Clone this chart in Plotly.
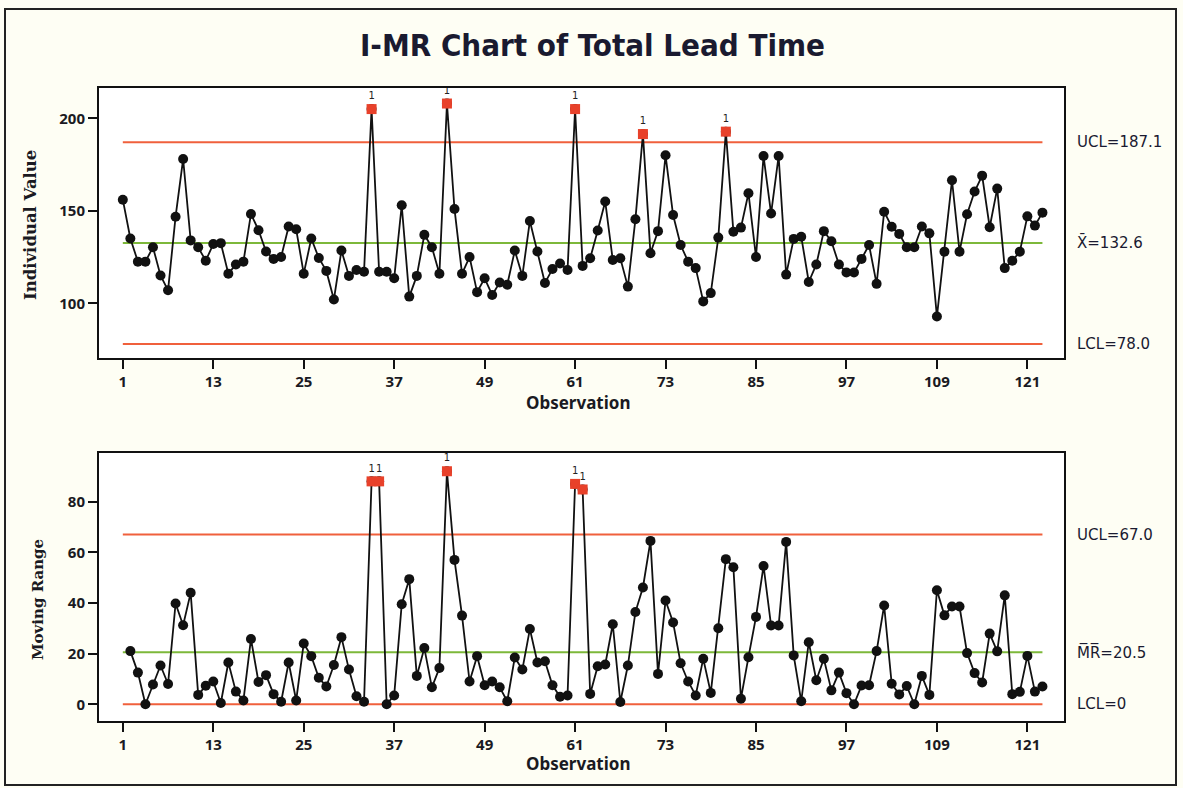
import numpy as np
import plotly.graph_objects as go

# ---------------- data ----------------
observation = list(range(1, 124))
individual_value = [
    156, 135, 122.5, 122.5, 130.3, 115, 107, 146.8, 178, 134,
    130.3, 123, 132, 132.5, 116, 121, 122.5, 148.3, 139.5, 128,
    124, 125, 141.5, 140, 116, 135, 124.5, 117.5, 102, 128.5,
    114.8, 118, 117, 205, 117, 117, 113.5, 153, 103.6, 114.8,
    137, 130.3, 116, 208, 151, 116, 125, 106, 113.5, 104.5,
    111.2, 110, 128.5, 114.8, 144.5, 128, 111, 118.5, 121.5, 118,
    205, 120.2, 124.3, 139.3, 155, 123.4, 124.3, 109, 145.4, 191.5,
    127, 139, 180, 147.7, 131.5, 122.5, 119, 101, 105.5, 135.5,
    192.8, 138.7, 140.9, 159.5, 125, 179.6, 148.5, 179.6, 115.5, 134.8,
    136, 111.5, 121, 139, 133.5, 121, 116.6, 116.6, 124, 131.5,
    110.5, 149.5, 141.4, 137.5, 130.3, 130.3, 141.5, 137.8, 92.8, 127.9,
    166.5, 127.9, 148.1, 160.4, 169, 141.1, 162, 119, 123, 127.9,
    147, 142, 149,
]
# moving range of the individual values (starts at observation 2)
moving_range = list(np.abs(np.diff(individual_value)))
mr_observation = observation[1:]

i_limits = {"UCL": 187.1, "CL": 132.6, "LCL": 78.0}
mr_limits = {"UCL": 67.0, "CL": 20.5, "LCL": 0.0}
i_flagged = [34, 44, 61, 70, 81]
mr_flagged = [34, 35, 44, 61, 62]
x_ticks = [1, 13, 25, 37, 49, 61, 73, 85, 97, 109, 121]

# ---------------- styling ----------------
W, H = 1183, 788
BLACK = "#111111"
RED = "#F0603C"
GREEN = "#7DB83A"
SQ = "#E8412A"
TICKFONT = dict(family="Noto Sans, Tahoma, sans-serif", size=15, color="#1a1a22", weight="bold")

def px_x(p):
    return p / W

def px_y(p):
    return 1 - p / H

fig = go.Figure()

def add_limits(limits, xa, ya):
    for key, col in (("UCL", RED), ("CL", GREEN), ("LCL", RED)):
        fig.add_trace(go.Scatter(
            x=[observation[0], observation[-1]], y=[limits[key]] * 2,
            mode="lines", xaxis=xa, yaxis=ya,
            line=dict(color=col, width=2), hoverinfo="skip", showlegend=False))

def add_series(xs, ys, flagged, xa, ya):
    fig.add_trace(go.Scatter(
        x=xs, y=ys, mode="lines+markers", xaxis=xa, yaxis=ya,
        line=dict(color=BLACK, width=1.8),
        marker=dict(color=BLACK, size=10, symbol="circle"),
        hoverinfo="x+y", showlegend=False))
    fy = [ys[xs.index(x)] for x in flagged]
    fig.add_trace(go.Scatter(
        x=flagged, y=fy, mode="markers+text", xaxis=xa, yaxis=ya,
        marker=dict(color=SQ, size=10, symbol="square"),
        text=["1"] * len(flagged), textposition="top center",
        textfont=dict(family="DejaVu Sans", size=10, color="#222222"),
        showlegend=False))

add_limits(i_limits, "x", "y")
add_limits(mr_limits, "x2", "y2")
add_series(observation, individual_value, i_flagged, "x", "y")
add_series(mr_observation, moving_range, mr_flagged, "x2", "y2")

x_range = [-2.16, 125.86]
axis_common = dict(
    showgrid=False, zeroline=False, showline=True, linecolor=BLACK, linewidth=2,
    mirror=True, ticks="outside", ticklen=9, tickwidth=1.5, tickcolor=BLACK,
    tickfont=TICKFONT,
)
fig.update_layout(
    width=W, height=H,
    margin=dict(l=0, r=0, t=0, b=0),
    paper_bgcolor="#FEFEF4",
    plot_bgcolor="#FFFFFF",
    xaxis=dict(domain=[px_x(99), px_x(1064)], range=x_range, tickvals=x_ticks,
               anchor="y", **axis_common),
    yaxis=dict(domain=[px_y(358), px_y(88)], range=[70.4, 216.4],
               tickvals=[100, 150, 200], anchor="x", **axis_common),
    xaxis2=dict(domain=[px_x(99), px_x(1064)], range=x_range, tickvals=x_ticks,
                anchor="y2", **axis_common),
    yaxis2=dict(domain=[px_y(721), px_y(453)], range=[-6.6, 99.2],
                tickvals=[0, 20, 40, 60, 80], anchor="x2", **axis_common),
)

ann = []
ann.append(dict(text="I-MR Chart of Total Lead Time", x=px_x(592), y=px_y(45),
                xref="paper", yref="paper", showarrow=False, xanchor="center", yanchor="middle",
                font=dict(family="Liberation Sans Narrow, DejaVu Sans Condensed, sans-serif",
                          size=31, color="#1a1a30", weight="bold")))
for yy in (403, 763):
    ann.append(dict(text="Observation", x=px_x(578), y=px_y(yy), xref="paper", yref="paper",
                    showarrow=False, xanchor="center", yanchor="middle",
                    font=dict(family="Noto Sans, Tahoma, sans-serif", size=17,
                              color="#1a1a22", weight="bold")))
ann.append(dict(text="Individual Value", x=px_x(30), y=px_y(225), xref="paper", yref="paper",
                showarrow=False, textangle=-90, xanchor="center", yanchor="middle",
                font=dict(family="DejaVu Serif, serif", size=16.5, color="#1a1a22", weight="bold")))
ann.append(dict(text="Moving Range", x=px_x(38), y=px_y(600), xref="paper", yref="paper",
                showarrow=False, textangle=-90, xanchor="center", yanchor="middle",
                font=dict(family="DejaVu Serif, serif", size=15, color="#1a1a22", weight="bold")))

lab_font = dict(family="DejaVu Sans, sans-serif", size=15, color="#1a1a30")
i_labels = [("UCL=%.1f" % i_limits["UCL"], i_limits["UCL"]),
            ("X\u0304=%.1f" % i_limits["CL"], i_limits["CL"]),
            ("LCL=%.1f" % i_limits["LCL"], i_limits["LCL"])]
for t, v in i_labels:
    ann.append(dict(text=t, x=px_x(1075), y=v, xref="paper", yref="y", showarrow=False,
                    xanchor="left", yanchor="middle", font=lab_font))
mr_labels = [("UCL=%.1f" % mr_limits["UCL"], mr_limits["UCL"]),
             ("M\u0305R\u0305=%.1f" % mr_limits["CL"], mr_limits["CL"]),
             ("LCL=%d" % mr_limits["LCL"], mr_limits["LCL"])]
for t, v in mr_labels:
    ann.append(dict(text=t, x=px_x(1075), y=v, xref="paper", yref="y2", showarrow=False,
                    xanchor="left", yanchor="middle", font=lab_font))
fig.update_layout(annotations=ann)

fig.add_shape(type="rect", xref="paper", yref="paper",
              x0=px_x(5), x1=px_x(1176), y0=px_y(785), y1=px_y(9),
              line=dict(color="#222222", width=2), fillcolor="rgba(0,0,0,0)", layer="below")

fig.write_html("out.html")
